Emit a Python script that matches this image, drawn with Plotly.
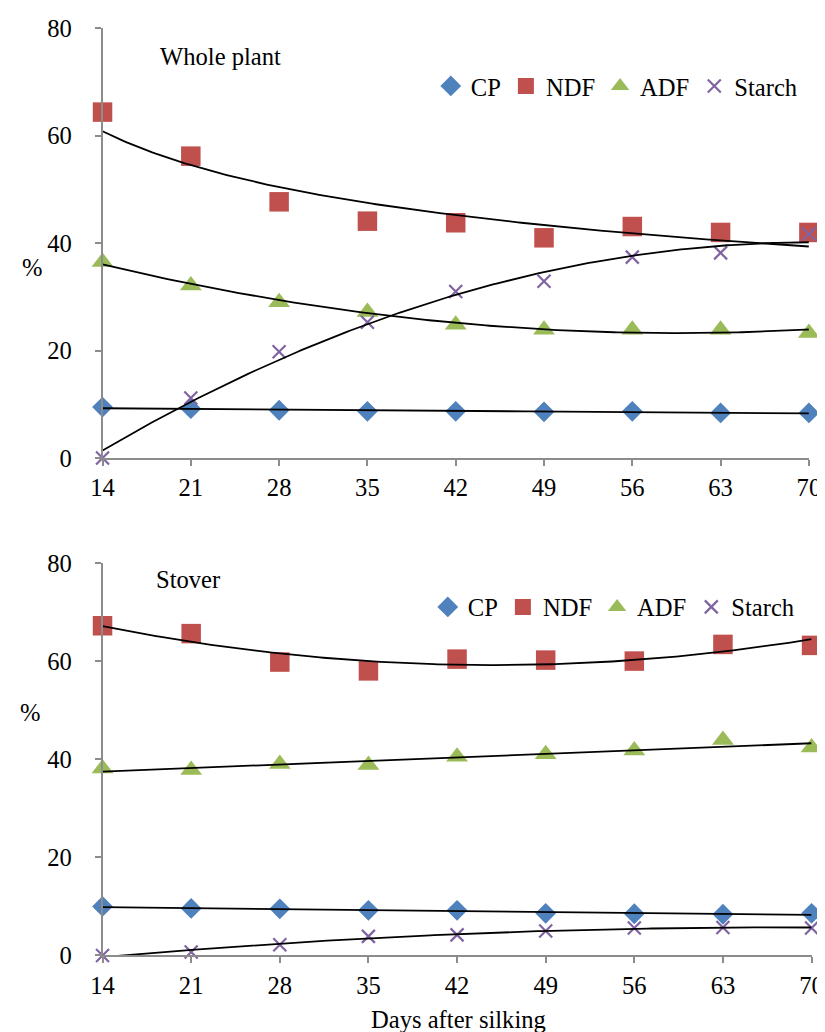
import numpy as np
import plotly.graph_objects as go

# ---------------- data ----------------
days = [14, 21, 28, 35, 42, 49, 56, 63, 70]
x_ticks = [14, 21, 28, 35, 42, 49, 56, 63, 70]
y_ticks = [0, 20, 40, 60, 80]
series_names = ["CP", "NDF", "ADF", "Starch"]

# Whole plant
wp_cp = [9.5, 9.2, 8.9, 8.7, 8.7, 8.6, 8.7, 8.4, 8.4]
wp_ndf = [64.4, 56.2, 47.7, 44.1, 43.8, 41.0, 43.1, 42.0, 42.0]
wp_adf = [36.5, 32.1, 29.0, 27.2, 24.8, 23.9, 23.9, 23.9, 23.3]
wp_starch = [0.0, 11.2, 19.8, 25.3, 31.0, 32.9, 37.4, 38.2, 41.7]

# Stover
st_cp = [10.0, 9.6, 9.5, 9.2, 9.2, 8.6, 8.5, 8.4, 8.6]
st_ndf = [67.2, 65.6, 59.8, 58.0, 60.4, 60.2, 60.0, 63.4, 63.2]
st_adf = [38.1, 37.8, 39.0, 38.8, 40.5, 41.0, 41.8, 43.9, 42.4]
st_starch = [0.0, 0.7, 2.2, 3.9, 4.2, 5.0, 5.6, 5.7, 5.6]

# trend-line type per series (Excel style trendlines)
wp_trends = ["linear", "power", "poly2", "poly2"]
st_trends = ["linear", "poly2", "linear", "poly2"]

# ---------------- style ----------------
W, H = 825, 1032
FONT = "Liberation Serif"
FS = 24.6
colors = {"CP": "#4F81BD", "NDF": "#C0504D", "ADF": "#9BBB59", "Starch": "#8064A2"}
symbols = {"CP": "diamond", "NDF": "square", "ADF": "triangle-up", "Starch": "x-thin-open"}
sizes = {"CP": 16, "NDF": 19.5, "ADF": 19, "Starch": 13}
AXIS_GREY = "#8C8C8C"

# screen -> figure pixel calibration
SX, OX = 0.974, 17.9
SY, OY = 0.975, 21.7


def fx(p):
    return ((p - OX) / SX) / W


def fy(p):
    return 1 - ((p - OY) / SY) / H


def trend(x, y, kind):
    x = np.asarray(x, float)
    y = np.asarray(y, float)
    xs = np.linspace(x.min(), x.max(), 200)
    if kind == "linear":
        ys = np.polyval(np.polyfit(x, y, 1), xs)
    elif kind == "poly2":
        ys = np.polyval(np.polyfit(x, y, 2), xs)
    elif kind == "power":
        b, a = np.polyfit(np.log(x), np.log(y), 1)
        ys = np.exp(a) * xs ** b
    return xs, ys


fig = go.Figure()

panels = [
    ("x", "y", "legend", [wp_cp, wp_ndf, wp_adf, wp_starch], wp_trends),
    ("x2", "y2", "legend2", [st_cp, st_ndf, st_adf, st_starch], st_trends),
]

for xa, ya, leg, data, trends in panels:
    for name, vals in zip(series_names, data):
        open_sym = symbols[name].endswith("open")
        fig.add_trace(go.Scatter(
            x=days, y=vals, mode="markers", name=name,
            xaxis=xa, yaxis=ya, legend=leg, cliponaxis=False,
            marker=dict(symbol=symbols[name], size=sizes[name], color=colors[name],
                        line=dict(color=colors[name], width=2.2 if open_sym else 0)),
        ))
    for name, vals, kind in zip(series_names, data, trends):
        tx, ty = trend(days, vals, kind)
        fig.add_trace(go.Scatter(
            x=tx, y=ty, mode="lines", showlegend=False, hoverinfo="skip",
            xaxis=xa, yaxis=ya, cliponaxis=False,
            line=dict(color="black", width=1.8),
        ))

axis_common = dict(
    showline=True, linecolor=AXIS_GREY, linewidth=1.5,
    ticks="outside", tickcolor=AXIS_GREY, ticklen=6, tickwidth=1.5,
    showgrid=False, zeroline=False,
    tickfont=dict(family=FONT, size=FS, color="black"),
)

legend_common = dict(orientation="h", xanchor="left", yanchor="middle",
                     bgcolor="rgba(0,0,0,0)", font=dict(family=FONT, size=FS, color="black"),
                     itemwidth=30, tracegroupgap=0)

fig.update_layout(
    width=W, height=H,
    margin=dict(l=0, r=0, t=0, b=0),
    paper_bgcolor="white", plot_bgcolor="white",
    font=dict(family=FONT, size=FS, color="black"),
    xaxis=dict(domain=[fx(100.7), fx(809.3)], range=[14, 70], tickvals=x_ticks,
               anchor="y", ticklabelstandoff=1, **axis_common),
    yaxis=dict(domain=[fy(459.3), fy(29)], range=[0, 80], tickvals=y_ticks,
               anchor="x", ticklabelstandoff=18, **axis_common),
    xaxis2=dict(domain=[fx(100.7), fx(812)], range=[14, 70], tickvals=x_ticks,
                anchor="y2", ticklabelstandoff=1, **axis_common),
    yaxis2=dict(domain=[fy(957.3), fy(564.3)], range=[0, 80], tickvals=y_ticks,
                anchor="x2", ticklabelstandoff=18, **axis_common),
    legend=dict(x=fx(430), y=fy(86.7), **legend_common),
    legend2=dict(x=fx(427), y=fy(608.3), **legend_common),
    showlegend=True,
    annotations=[
        dict(text="Whole plant", x=fx(156.7), y=fy(57), xref="paper", yref="paper",
             xanchor="left", yanchor="middle", showarrow=False,
             font=dict(family=FONT, size=FS, color="black")),
        dict(text="Stover", x=fx(152.3), y=fy(581), xref="paper", yref="paper",
             xanchor="left", yanchor="middle", showarrow=False,
             font=dict(family=FONT, size=FS, color="black")),
        dict(text="%", x=0.0, y=fy(268), xref="paper", yref="paper",
             xanchor="left", yanchor="middle", showarrow=False,
             font=dict(family=FONT, size=FS, color="black")),
        dict(text="%", x=fx(28), y=fy(714), xref="paper", yref="paper",
             xanchor="center", yanchor="middle", showarrow=False,
             font=dict(family=FONT, size=FS, color="black")),
        dict(text="Days after silking", x=fx(457.5), y=fy(1021), xref="paper", yref="paper",
             xanchor="center", yanchor="middle", showarrow=False,
             font=dict(family=FONT, size=FS, color="black")),
    ],
)

fig.write_html("out.html")
